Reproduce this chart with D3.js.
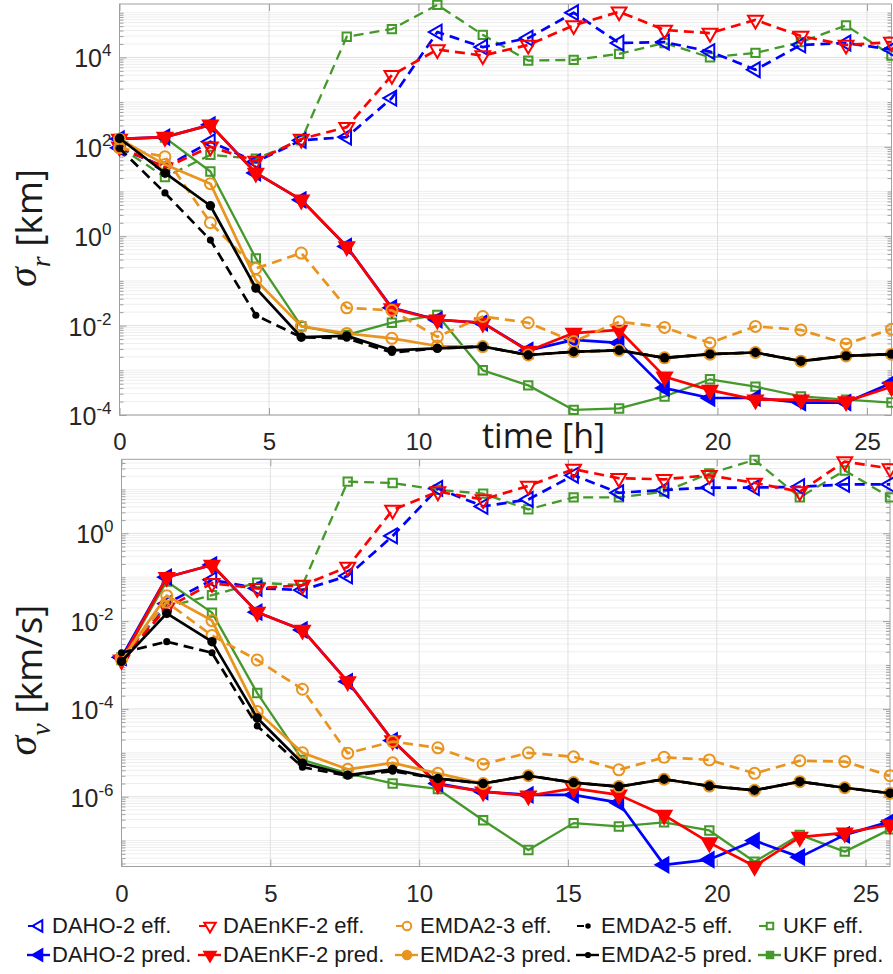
<!DOCTYPE html>
<html><head><meta charset="utf-8">
<script src="https://cdn.jsdelivr.net/npm/d3@7"></script>
<style>body{margin:0;background:#fff}svg{display:block}</style>
</head><body>
<svg id="c" width="893" height="974"></svg>
<script>
// ---------------- DATA ----------------
const TIME = [0,1.52,3.04,4.56,6.08,7.60,9.11,10.63,12.15,13.67,15.19,16.71,18.23,19.75,21.27,22.79,24.30,25.82];
const X_TICKS = [0,5,10,15,20,25];
const R_TICK_EXP = [-4,-2,0,2,4];
const V_TICK_EXP = [-6,-4,-2,0];

// sigma_r [km]
const DAHO_EFF_R   = [95,35,130,46,140,165,1230,37000,17000,27000,100000,21000,22000,13500,5300,19000,21000,15000];
const DAHO_PRED_R  = [150,165,310,26,6.5,0.59,0.025,0.0135,0.0115,0.0028,0.0048,0.0041,0.0004,0.00024,0.00024,0.00019,0.00019,0.00052];
const DAENKF_EFF_R = [100,34,100,48,150,275,4000,15000,11000,19000,52000,105000,41000,35000,69000,30000,19000,22000];
const DAENKF_PRED_R= [150,165,310,26,6.5,0.59,0.024,0.0135,0.0115,0.0027,0.0068,0.008,0.00072,0.00036,0.00022,0.00022,0.0002,0.00043];
const EMDA3_EFF_R  = [95,60,2.0,0.19,0.42,0.025,0.022,0.0056,0.016,0.0116,0.0044,0.0122,0.0091,0.0041,0.0096,0.008,0.0039,0.0083];
const EMDA3_PRED_R = [150,40,15,0.105,0.0096,0.0067,0.0052,0.0035,0.0034,0.0022,0.0026,0.0028,0.0019,0.0023,0.0025,0.0016,0.0021,0.0023];
const EMDA5_EFF_R  = [93,9.3,0.82,0.017,0.0055,0.0052,0.0025,0.0031,0.0034,0.0022,0.0026,0.0028,0.0019,0.0023,0.0025,0.0016,0.0021,0.0023];
const EMDA5_PRED_R = [155,26,4.8,0.069,0.0055,0.0059,0.0028,0.0031,0.0034,0.0022,0.0026,0.0028,0.0019,0.0023,0.0025,0.0016,0.0021,0.0023];
const UKF_EFF_R    = [100,21,66,54,140,29000,43000,150000,32000,8500,8800,12000,21000,10000,12600,22000,52000,11000];
const UKF_PRED_R   = [150,160,28,0.32,0.0097,0.0062,0.0116,0.0173,0.001,0.00046,0.00013,0.00014,0.00026,0.00063,0.00043,0.00026,0.00022,0.00019];

// sigma_v [km/s]
const DAHO_EFF_V   = [0.0015,0.025,0.087,0.056,0.051,0.107,0.87,10.5,4.1,5.9,21,8.4,9.7,11,11,11.5,13,13];
const DAHO_PRED_V  = [0.0015,0.1,0.19,0.016,0.0063,0.00042,1.9e-5,2.0e-6,1.3e-6,1.1e-6,1.1e-6,7.3e-7,2.8e-8,3.7e-8,1.0e-7,4.2e-8,1.35e-7,2.7e-7];
const DAENKF_EFF_V = [0.0013,0.02,0.073,0.056,0.066,0.17,3.4,8.9,5.9,12,29,18,17,21,14,8.9,43,30];
const DAENKF_PRED_V= [0.0013,0.1,0.19,0.016,0.0063,0.00042,1.9e-5,1.9e-6,1.3e-6,1.05e-6,1.55e-6,1.1e-6,3.8e-7,9e-8,2.6e-8,1.2e-7,1.5e-7,2.3e-7];
const EMDA3_EFF_V  = [0.0015,0.027,0.0047,0.0013,0.00028,9.8e-6,1.8e-5,1.3e-5,5.5e-6,1.0e-5,8.1e-6,4.1e-6,7.9e-6,6.9e-6,3.4e-6,6.6e-6,6.3e-6,3.0e-6];
const EMDA3_PRED_V = [0.0013,0.038,0.0103,8.7e-5,1.0e-5,4.2e-6,5.9e-6,3.4e-6,2.0e-6,3.0e-6,2.1e-6,1.7e-6,2.5e-6,1.75e-6,1.4e-6,2.2e-6,1.6e-6,1.2e-6];
const EMDA5_EFF_V  = [0.0019,0.0034,0.0019,4.1e-5,4.7e-6,3.0e-6,3.8e-6,2.6e-6,2.0e-6,3.0e-6,2.1e-6,1.7e-6,2.5e-6,1.75e-6,1.4e-6,2.2e-6,1.6e-6,1.2e-6];
const EMDA5_PRED_V = [0.0012,0.015,0.0034,6.2e-5,5.8e-6,3.1e-6,4.2e-6,2.6e-6,2.0e-6,3.0e-6,2.1e-6,1.7e-6,2.5e-6,1.75e-6,1.4e-6,2.2e-6,1.6e-6,1.2e-6];
const UKF_EFF_V    = [0.0015,0.021,0.039,0.075,0.066,15,14,9.8,8.0,3.5,6.6,6.6,8.9,23,47,6.6,27,6.6];
const UKF_PRED_V   = [0.0013,0.08,0.0156,2.3e-4,6.9e-6,3.4e-6,2.0e-6,1.5e-6,2.9e-7,6.1e-8,2.5e-7,2.1e-7,2.6e-7,1.7e-7,3.3e-8,1.35e-7,5.6e-8,1.8e-7];

const METHODS = ['DAHO-2','DAEnKF-2','EMDA2-3','EMDA2-5','UKF'];
const COLORS  = {'DAHO-2':'#0000ff','DAEnKF-2':'#ff0000','EMDA2-3':'#e8941e','EMDA2-5':'#000000','UKF':'#44992a'};
const MARKERS = {'DAHO-2':'left','DAEnKF-2':'down','EMDA2-3':'circle','EMDA2-5':'dot','UKF':'square'};

// ---------------- DRAW ----------------
const svg = d3.select('#c');
const TICKFONT = '"Liberation Sans", Arial, sans-serif';
const LABELFONT = '"Open Sans", sans-serif';
const AXC = '#a0a0a0';

function markerPath(type, legend) {
  const k = legend ? 0.6 : 1;
  if (type === 'left' || type === 'down') return d3.symbol(d3.symbolTriangle, 95 * k)();
  if (type === 'square') return d3.symbol(d3.symbolSquare, 70 * k)();
  if (type === 'circle') return d3.symbol(d3.symbolCircle, 95 * k)();
  return d3.symbol(d3.symbolCircle, 40 * k)();
}
function markerRot(type) { return type === 'left' ? -90 : (type === 'down' ? 180 : 0); }

function drawMarker(g, type, color, filled, cx, cy, legend, isPred) {
  let fill = 'none', sw = 2;
  if (type === 'dot') { fill = color; sw = 0; }
  else if (filled) fill = color;
  let p = markerPath(type, legend);
  if (type === 'dot' && isPred) p = d3.symbol(d3.symbolCircle, legend ? 30 : 70)();
  g.append('path').attr('d', p)
    .attr('transform', `translate(${cx},${cy}) rotate(${markerRot(type)})`)
    .attr('fill', fill).attr('stroke', color).attr('stroke-width', sw);
}

function panel(p) {
  const g = svg.append('g');
  const x = d3.scaleLinear().domain([0, 25.82]).range([p.x0, p.x1]);
  const y = d3.scaleLog().domain([p.ymin, p.ymax]).range([p.y1, p.y0]);
  const W = p.x1 - p.x0, H = p.y1 - p.y0;
  const lo = Math.floor(Math.log10(p.ymin)), hi = Math.ceil(Math.log10(p.ymax));
  const minors = [], decades = [];
  for (let d = lo; d <= hi; d++) {
    for (let k = 1; k <= 9; k++) {
      const v = k * Math.pow(10, d);
      if (v < p.ymin * 0.999 || v > p.ymax * 1.001) continue;
      if (k === 1) decades.push(v); else minors.push(v);
    }
  }
  const majors = p.exps.map(e => Math.pow(10, e));
  const oddDec = decades.filter(v => !p.exps.includes(Math.round(Math.log10(v))));
  // grid
  const grid = g.append('g');
  grid.selectAll('.mn').data(minors.concat(oddDec)).enter().append('line')
    .attr('x1', p.x0).attr('x2', p.x1).attr('y1', d => y(d)).attr('y2', d => y(d))
    .attr('stroke', '#eeeeee').attr('stroke-width', 1);
  grid.selectAll('.mj').data(majors).enter().append('line')
    .attr('x1', p.x0).attr('x2', p.x1).attr('y1', d => y(d)).attr('y2', d => y(d))
    .attr('stroke', '#e0e0e0').attr('stroke-width', 1);
  grid.selectAll('.xg').data(X_TICKS.filter(t => t > 0)).enter().append('line')
    .attr('x1', d => x(d)).attr('x2', d => x(d)).attr('y1', p.y0).attr('y2', p.y1)
    .attr('stroke', '#e0e0e0').attr('stroke-width', 1);

  // axes ticks
  const styleAxis = sel => { sel.select('.domain').remove(); sel.selectAll('line').attr('stroke', AXC); };
  g.append('g').attr('transform', `translate(${p.x0},0)`)
    .call(d3.axisLeft(y).tickValues(minors.concat(oddDec)).tickSize(-4).tickFormat('')).call(styleAxis);
  g.append('g').attr('transform', `translate(${p.x0},0)`)
    .call(d3.axisLeft(y).tickValues(majors).tickSize(-7).tickFormat('')).call(styleAxis);
  g.append('g').attr('transform', `translate(${p.x1},0)`)
    .call(d3.axisRight(y).tickValues(minors.concat(oddDec)).tickSize(-4).tickFormat('')).call(styleAxis);
  g.append('g').attr('transform', `translate(${p.x1},0)`)
    .call(d3.axisRight(y).tickValues(majors).tickSize(-7).tickFormat('')).call(styleAxis);
  g.append('g').attr('transform', `translate(0,${p.y0})`)
    .call(d3.axisTop(x).tickValues(X_TICKS).tickSize(-7).tickFormat('')).call(styleAxis);
  const xb = g.append('g').attr('transform', `translate(0,${p.y1})`)
    .call(d3.axisBottom(x).tickValues(X_TICKS).tickSizeInner(-7).tickSizeOuter(0).tickPadding(p.xpad)
      .tickFormat(d => (p.hideTick && p.hideTick.includes(d)) ? '' : d3.format('d')(d)));
  styleAxis(xb);
  xb.selectAll('text').attr('font-size', 24).attr('font-family', TICKFONT).attr('fill', '#262626');

  g.append('rect').attr('x', p.x0).attr('y', p.y0).attr('width', W).attr('height', H)
    .attr('fill', 'none').attr('stroke', AXC).attr('stroke-width', 1);

  // y tick labels with superscripts
  p.exps.forEach(e => {
    const t = g.append('text').attr('x', p.x0 - 8).attr('y', y(Math.pow(10, e)) + 10)
      .attr('text-anchor', 'end').attr('font-family', TICKFONT).attr('fill', '#262626');
    t.append('tspan').attr('font-size', 25).text('10');
    t.append('tspan').attr('font-size', 17).attr('dy', -11).text(String(e));
  });

  // clip
  const cid = 'clip' + p.id;
  svg.append('clipPath').attr('id', cid).append('rect')
    .attr('x', p.x0).attr('y', p.y0).attr('width', W + 3).attr('height', H);

  const line = d3.line().x((d, i) => x(TIME[i])).y(d => y(d));
  const order = ['UKF', 'DAHO-2', 'DAEnKF-2', 'EMDA2-3', 'EMDA2-5'];
  order.forEach(m => {
    ['eff', 'pred'].forEach(kind => {
      const vals = p.data[m][kind];
      const col = COLORS[m];
      g.append('path').attr('d', line(vals)).attr('clip-path', `url(#${cid})`)
        .attr('fill', 'none').attr('stroke', col)
        .attr('stroke-width', m === 'UKF' ? 2.3 : 2.7)
        .attr('stroke-dasharray', kind === 'eff' ? '10,6' : null)
        .attr('stroke-linejoin', 'round');
      const mg = g.append('g');
      const type = MARKERS[m];
      const filled = kind === 'pred' && (type === 'left' || type === 'down' || type === 'dot');
      vals.forEach((v, i) => drawMarker(mg, type, col, filled, x(TIME[i]), y(v), false, kind === 'pred'));
    });
  });
  return {x, y};
}

panel({
  id: 'r', x0: 119.5, x1: 891.5, y0: 4, y1: 415, ymin: 1e-4, ymax: Math.pow(10, 5.195),
  exps: R_TICK_EXP, xpad: 18, hideTick: [15],
  data: {
    'DAHO-2': {eff: DAHO_EFF_R, pred: DAHO_PRED_R},
    'DAEnKF-2': {eff: DAENKF_EFF_R, pred: DAENKF_PRED_R},
    'EMDA2-3': {eff: EMDA3_EFF_R, pred: EMDA3_PRED_R},
    'EMDA2-5': {eff: EMDA5_EFF_R, pred: EMDA5_PRED_R},
    'UKF': {eff: UKF_EFF_R, pred: UKF_PRED_R}
  }
});
panel({
  id: 'v', x0: 121.5, x1: 890, y0: 459.3, y1: 866.5, ymin: Math.pow(10, -7.59), ymax: Math.pow(10, 1.686),
  exps: V_TICK_EXP, xpad: 18.5,
  data: {
    'DAHO-2': {eff: DAHO_EFF_V, pred: DAHO_PRED_V},
    'DAEnKF-2': {eff: DAENKF_EFF_V, pred: DAENKF_PRED_V},
    'EMDA2-3': {eff: EMDA3_EFF_V, pred: EMDA3_PRED_V},
    'EMDA2-5': {eff: EMDA5_EFF_V, pred: EMDA5_PRED_V},
    'UKF': {eff: UKF_EFF_V, pred: UKF_PRED_V}
  }
});

// x label of top panel (sits where the "15" tick label would be)
svg.append('rect').attr('x', 478).attr('y', 418).attr('width', 132).attr('height', 40).attr('fill', '#fff');
svg.append('text').attr('x', 482).attr('y', 448).attr('font-family', LABELFONT).attr('font-size', 34)
  .attr('fill', '#1a1a1a').text('time [h]');

// y labels
function ylabel(cy, sub, unit) {
  const t = svg.append('text').attr('transform', `translate(42,${cy}) rotate(-90)`)
    .attr('text-anchor', 'middle').attr('fill', '#1a1a1a');
  t.append('tspan').attr('font-family', '"Liberation Serif", "DejaVu Serif", serif').attr('font-style', 'italic')
    .attr('font-size', 40).attr('dy', -6).text('σ');
  t.append('tspan').attr('font-family', '"Liberation Serif", "DejaVu Serif", serif').attr('font-style', 'italic')
    .attr('font-size', 28).attr('dy', 14).text(sub);
  t.append('tspan').attr('font-family', LABELFONT).attr('font-size', 37).attr('dy', -8).text(' ' + unit);
}
ylabel(228, 'r', '[km]');
ylabel(680, 'v', '[km/s]');

// legend
const LEG_TEXT_X = [52, 223, 420, 601, 783];
const LEG_ROWS = [933, 962];
const leg = svg.append('g');
METHODS.forEach((m, i) => {
  const tx = LEG_TEXT_X[i], col = COLORS[m], type = MARKERS[m];
  ['eff', 'pred'].forEach((kind, r) => {
    const by = LEG_ROWS[r], cy = by - 7;
    if (kind === 'eff') {
      leg.append('line').attr('x1', tx - 24).attr('x2', tx - 17).attr('y1', cy).attr('y2', cy)
        .attr('stroke', col).attr('stroke-width', 2);
    } else {
      leg.append('line').attr('x1', tx - 25).attr('x2', tx - 2).attr('y1', cy).attr('y2', cy)
        .attr('stroke', col).attr('stroke-width', 2.4);
    }
    drawMarker(leg, type, col, kind === 'pred', tx - 13, cy, true, kind === 'pred');
    leg.append('text').attr('x', tx).attr('y', by).attr('font-family', TICKFONT).attr('font-size', 22)
      .attr('fill', '#1a1a1a').text(`${m} ${kind}.`);
  });
});
</script>
</body></html>
